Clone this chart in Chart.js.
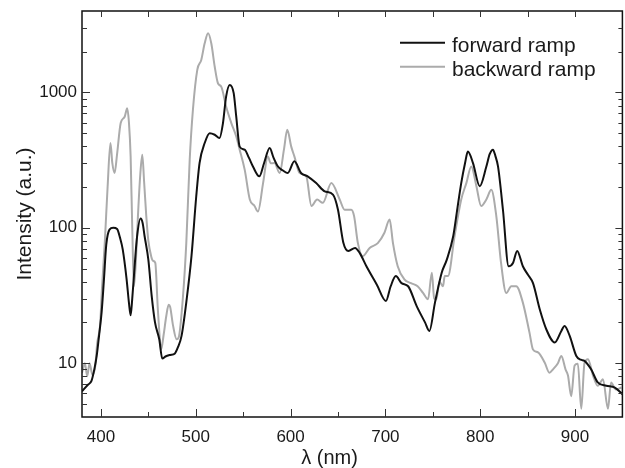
<!DOCTYPE html>
<html>
<head>
<meta charset="utf-8">
<script src="https://cdn.jsdelivr.net/npm/chart.js@4.4.1/dist/chart.umd.min.js"></script>
<style>
  html, body { margin: 0; padding: 0; background: #fff; }
  #wrap { width: 625px; height: 468px; }
</style>
</head>
<body>
<div id="wrap"><canvas id="spectrum" width="625" height="468"></canvas></div>
<script>
// forward ramp (black)
var fwdNm = [380, 386, 390, 393, 395.5, 398, 400.7, 403, 405.6, 409, 413, 417, 420, 423, 427, 429.5, 431.3, 433, 435, 438,
    441.8, 444, 446, 450, 453.5, 457, 461.5, 464.7, 468, 473, 478, 481, 485, 490.4, 495.5, 500.5, 504, 509.4, 514.7, 520,
    525, 528.7, 532, 535.8, 540, 542.7, 546.3, 551.5, 556, 560.3, 567, 572, 578, 582, 586.7, 592, 597, 604, 611, 618,
    627, 636, 644.7, 650, 655.6, 661, 668, 673, 680, 691, 700.6, 705.6, 711, 717, 724, 733, 741.8, 746.4, 752.3, 759.4,
    764.7, 771.6, 776, 780, 784, 787, 792.4, 799.5, 806.5, 810, 813.5, 816, 818.8, 824, 830, 834.6, 839, 845, 850.4, 855.7,
    862.8, 869.7, 878.6, 885.6, 889, 894.4, 901.4, 906, 910, 917, 924, 933, 942, 950];
var fwdVal = [6.2, 6.9, 7.4, 9, 11.3, 16, 23.8, 40, 75, 97, 100, 98, 85, 69, 42, 28, 22.6, 30, 46.5, 85,
    117, 108, 87, 58, 31.4, 20, 15, 10.8, 11.2, 11.5, 11.8, 13, 15.9, 29.6, 62, 171, 301, 423, 500, 487,
    460, 594, 933, 1138, 988, 662, 398, 378, 330, 284, 240, 300, 389, 330, 284, 265, 254, 310, 254, 240,
    214, 186, 176, 136, 78, 67.5, 71, 65, 52, 38, 28.8, 37, 44, 39, 37, 26.4, 20, 17.3, 28, 46.6,
    58, 87, 140, 214, 300, 366, 301, 203, 284, 350, 378, 340, 284, 136, 52, 55, 67.5, 52, 45, 39,
    25, 17.8, 14.2, 17.3, 18.8, 15.9, 11.3, 10.6, 10.4, 9, 7.2, 6.8, 6.6, 5.9];

// backward ramp (grey)
var bwdNm = [380, 383, 385.5, 388, 391, 394, 396, 399, 401, 404, 407, 410, 412, 414.4, 417, 420.8, 425, 427.7, 429.5, 431.3,
    433, 434.8, 437, 439, 441.5, 443.6, 445.5, 447.8, 450, 453, 455, 457.3, 460, 463.6, 466, 468.9, 471.4, 473, 476, 479.8,
    482, 486.5, 490, 493.6, 497, 501.6, 505.8, 509.4, 513, 516.4, 520, 523.4, 527, 532, 537.5, 542.7, 546.3, 551.6, 557, 562,
    565.6, 571, 576, 579, 583, 588.5, 593, 596.5, 600.7, 604, 609.6, 616.6, 622, 628, 634, 643, 651.8, 657, 664, 667,
    671, 676, 683.4, 692, 699, 704.5, 708, 713, 720, 727, 734, 739.7, 745, 749, 751.5, 753.7, 757, 760.8, 762.6, 766,
    773, 780, 785.4, 790.6, 796, 801, 806.5, 811.7, 817, 822, 827.5, 832.8, 838, 845, 852, 855.7, 861, 868, 873, 876.8,
    882, 885.6, 890, 892.6, 896, 899.6, 903, 906.6, 910, 913.7, 919, 924, 929.5, 934.8, 938, 943, 949];
var bwdVal = [8.5, 10, 8, 10, 8.2, 9.5, 14, 18.8, 35, 77, 200, 423, 300, 254, 350, 594, 662, 765, 600, 337,
    100, 37, 60, 122, 250, 347, 220, 122, 80, 61.5, 57, 55, 25, 12.7, 16, 22.3, 27, 26, 19, 15,
    15.5, 31, 77, 318, 745, 1470, 1740, 2306, 2735, 2300, 1550, 1170, 1100, 787, 594, 473, 378, 269, 162, 145,
    132, 214, 337, 300, 301, 254, 378, 530, 398, 337, 254, 240, 145, 162, 153, 214, 162, 136, 136, 122,
    77, 61.7, 71, 77, 92, 115, 77, 52, 41.6, 39, 37, 33, 29.6, 46.6, 30, 29.6, 40, 37, 44, 44,
    87, 162, 214, 284, 203, 145, 162, 191, 122, 55, 33, 37, 37, 28, 16.8, 12.6, 12, 10.1, 8.5, 9,
    10, 11.3, 9, 8.1, 5.7, 9.6, 9.9, 4.6, 10, 10.7, 8.1, 6.8, 7.6, 4.6, 7.2, 6.4, 6.6];

var seriesNames = ['forward ramp', 'backward ramp'];
var xTicks = [400, 450, 500, 550, 600, 650, 700, 750, 800, 850, 900];
var xLabels = [400, 500, 600, 700, 800, 900];
var yTicks = [5, 6, 7, 8, 9, 10, 20, 30, 40, 50, 60, 70, 80, 90, 100, 200, 300, 400, 500, 600, 700, 800, 900, 1000, 2000, 3000];
var yLabels = [10, 100, 1000];

function toPoints(xs, ys) {
    var pts = [];
    for (var i = 0; i < xs.length; i++) pts.push({ x: xs[i], y: ys[i] });
    return pts;
}

var FONT = '"Liberation Sans", Arial, Helvetica, sans-serif';

// frame, inward ticks, legend and x title
var framePlugin = {
    id: 'framePlugin',
    afterDraw: function (chart) {
        var ctx = chart.ctx, a = chart.chartArea;
        var xs = chart.scales.x, ys = chart.scales.y;
        ctx.save();
        ctx.strokeStyle = '#111';
        ctx.lineWidth = 1.5;
        ctx.strokeRect(a.left, a.top, a.right - a.left, a.bottom - a.top);

        ctx.lineWidth = 1;
        ctx.strokeStyle = '#333';
        ctx.beginPath();
        xTicks.forEach(function (v) {
            var px = Math.round(xs.getPixelForValue(v)) + 0.5;
            var len = xLabels.indexOf(v) >= 0 ? 8 : 5;
            ctx.moveTo(px, a.bottom); ctx.lineTo(px, a.bottom - len);
            ctx.moveTo(px, a.top); ctx.lineTo(px, a.top + 6);
        });
        yTicks.forEach(function (v) {
            var py = Math.round(ys.getPixelForValue(v)) + 0.5;
            var len = yLabels.indexOf(v) >= 0 ? 8 : 5;
            ctx.moveTo(a.left, py); ctx.lineTo(a.left + len, py);
            ctx.moveTo(a.right, py); ctx.lineTo(a.right - len + 1, py);
        });
        ctx.stroke();

        // legend
        var ds = chart.data.datasets;
        var ly = [42.7, 66.7];
        ctx.font = '21px ' + FONT;
        ctx.textBaseline = 'alphabetic';
        ctx.textAlign = 'left';
        for (var i = 0; i < ds.length; i++) {
            ctx.strokeStyle = ds[i].borderColor;
            ctx.lineWidth = 2;
            ctx.beginPath();
            ctx.moveTo(400, ly[i]); ctx.lineTo(445, ly[i]);
            ctx.stroke();
            ctx.fillStyle = '#1a1a1a';
            ctx.fillText(ds[i].label, 452, ly[i] + 9.6);
        }

        // x axis title
        ctx.font = '20px ' + FONT;
        ctx.textAlign = 'center';
        ctx.fillText('\u03bb (nm)', 329.5, 464);
        ctx.restore();
    }
};

var chart = new Chart(document.getElementById('spectrum').getContext('2d'), {
    type: 'line',
    data: {
        datasets: [
            { label: seriesNames[0], data: toPoints(fwdNm, fwdVal), borderColor: '#111111', borderWidth: 2,
              pointRadius: 0, cubicInterpolationMode: 'monotone', fill: false },
            { label: seriesNames[1], data: toPoints(bwdNm, bwdVal), borderColor: '#ababab', borderWidth: 2,
              pointRadius: 0, cubicInterpolationMode: 'monotone', fill: false }
        ]
    },
    options: {
        responsive: false,
        animation: false,
        layout: { padding: { left: 0, right: 2.6, top: 11, bottom: 0 } },
        plugins: { legend: { display: false }, tooltip: { enabled: false } },
        scales: {
            x: {
                type: 'linear', min: 380, max: 950,
                grid: { display: false, drawTicks: false },
                border: { display: false },
                afterBuildTicks: function (s) { s.ticks = xTicks.map(function (v) { return { value: v }; }); },
                afterFit: function (s) { s.height = 51; s.paddingLeft = 0; s.paddingRight = 0; },
                ticks: {
                    autoSkip: false, maxRotation: 0, padding: 10, color: '#1a1a1a',
                    font: { family: FONT, size: 17 },
                    callback: function (v) { return xLabels.indexOf(v) >= 0 ? String(v) : ''; }
                }
            },
            y: {
                type: 'logarithmic', min: 4, max: 4000,
                grid: { display: false, drawTicks: false },
                border: { display: false },
                afterBuildTicks: function (s) { s.ticks = yTicks.map(function (v) { return { value: v }; }); },
                afterFit: function (s) { s.width = 82; s.paddingTop = 0; s.paddingBottom = 0; },
                ticks: {
                    autoSkip: false, padding: 5, color: '#1a1a1a',
                    font: { family: FONT, size: 17 },
                    callback: function (v) { return yLabels.indexOf(v) >= 0 ? String(v) : ''; }
                },
                title: {
                    display: true, text: 'Intensity (a.u.)', color: '#1a1a1a',
                    font: { family: FONT, size: 21 },
                    padding: { top: 12.4, bottom: 0 }
                }
            }
        }
    },
    plugins: [framePlugin]
});
</script>
</body>
</html>
